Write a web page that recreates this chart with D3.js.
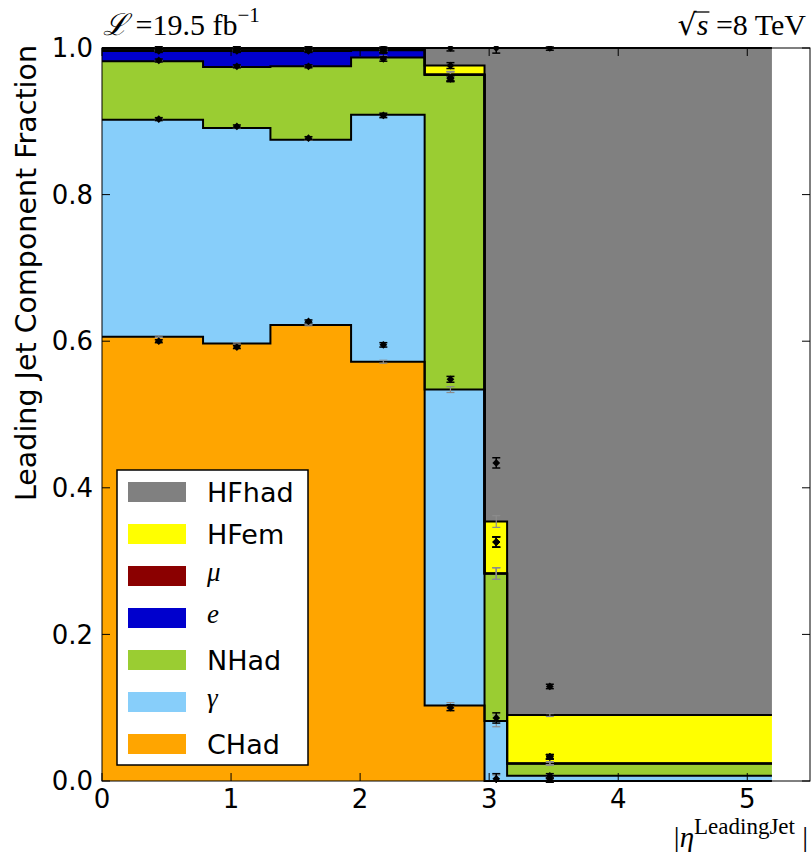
<!DOCTYPE html>
<html>
<head>
<meta charset="utf-8">
<script src="https://cdn.jsdelivr.net/npm/d3@7"></script>
<style>
  body { margin: 0; background: #fff; }
  svg { display: block; }
</style>
</head>
<body>
<svg id="chart" width="811" height="852"></svg>
<script>
// |eta| bin edges of the leading jet
const binEdges = [0, 0.783, 1.305, 1.93, 2.5, 2.964, 3.139, 5.191];
// mean |eta| of the data in each bin (where the points sit)
const dataEta = [0.44, 1.045, 1.60, 2.18, 2.70, 3.055, 3.47];

// component keys, stacked from the bottom up
const componentKeys = ["CHad", "gamma", "NHad", "e", "mu", "HFem", "HFhad"];
const componentLabels = ["CHad", "γ", "NHad", "e", "μ", "HFem", "HFhad"];
const componentMath = [false, true, false, true, true, false, false];
const componentColors = ["#ffa500", "#87cefa", "#9acd32", "#0000cd", "#8b0000", "#ffff00", "#808080"];

// simulation: energy fraction carried by each component, per bin
const mcCHad     = [0.606, 0.597, 0.622, 0.572, 0.103, 0.000, 0.000];
const mcGamma    = [0.296, 0.294, 0.253, 0.337, 0.431, 0.082, 0.007];
const mcNHad     = [0.080, 0.083, 0.100, 0.078, 0.429, 0.201, 0.017];
const mcElectron = [0.014, 0.022, 0.021, 0.010, 0.001, 0.000, 0.000];
const mcMuon     = [0.001, 0.001, 0.001, 0.001, 0.000, 0.000, 0.000];
const mcHFem     = [0.000, 0.000, 0.000, 0.000, 0.012, 0.071, 0.066];
const mcHFhad    = [0.003, 0.003, 0.003, 0.002, 0.024, 0.646, 0.910];
const mcErr      = [0.001, 0.001, 0.001, 0.002, 0.004, 0.008, 0.002];

// data: energy fraction carried by each component, per bin
const dataCHad     = [0.600, 0.592, 0.627, 0.595, 0.100, 0.003, 0.001];
const dataGamma    = [0.303, 0.301, 0.250, 0.313, 0.448, 0.083, 0.006];
const dataNHad     = [0.080, 0.082, 0.098, 0.077, 0.410, 0.240, 0.026];
const dataElectron = [0.013, 0.021, 0.021, 0.011, 0.001, 0.000, 0.000];
const dataMuon     = [0.001, 0.001, 0.001, 0.001, 0.000, 0.000, 0.000];
const dataHFem     = [0.000, 0.000, 0.000, 0.000, 0.017, 0.108, 0.096];
const dataHFhad    = [0.003, 0.003, 0.003, 0.003, 0.024, 0.566, 0.871];
const dataErr      = [0.002, 0.002, 0.002, 0.003, 0.004, 0.007, 0.003];

const xTicks = [0, 1, 2, 3, 4, 5];
const yTicks = [0.0, 0.2, 0.4, 0.6, 0.8, 1.0];

// ---------------------------------------------------------------
const svg = d3.select("#chart");
const plotL = 102, plotR = 810, plotT = 48, plotB = 781;

const x = d3.scaleLinear().domain([0, 5.486]).range([plotL, plotR]);
const y = d3.scaleLinear().domain([0, 1]).range([plotB, plotT]);

function rowsFrom(cols) {
  return binEdges.slice(0, -1).map((_, i) => {
    const r = {};
    componentKeys.forEach((k, j) => { r[k] = cols[j][i]; });
    return r;
  });
}
const mcRows = rowsFrom([mcCHad, mcGamma, mcNHad, mcElectron, mcMuon, mcHFem, mcHFhad]);
const dataRows = rowsFrom([dataCHad, dataGamma, dataNHad, dataElectron, dataMuon, dataHFem, dataHFhad]);

const stack = d3.stack().keys(componentKeys);
const mcStack = stack(mcRows);
const dataStack = stack(dataRows);

svg.append("defs").append("clipPath").attr("id", "plotClip")
  .append("rect").attr("x", plotL).attr("y", plotT - 2)
  .attr("width", plotR - plotL).attr("height", plotB - plotT + 4);

const plot = svg.append("g").attr("clip-path", "url(#plotClip)");

const nBins = binEdges.length - 1;
const stepPoints = s => binEdges.map((e, i) => ({ x: e, v: s[Math.min(i, nBins - 1)] }));

const area = d3.area()
  .x(d => x(d.x)).y0(d => y(d.v[0])).y1(d => y(d.v[1]))
  .curve(d3.curveStepAfter);
const topLine = d3.line()
  .x(d => x(d.x)).y(d => y(d.v[1]))
  .curve(d3.curveStepAfter);

// filled stacked components
plot.selectAll("path.fill").data(mcStack).join("path")
  .attr("class", "fill")
  .attr("d", s => area(stepPoints(s)))
  .attr("fill", (s, i) => componentColors[i])
  .attr("stroke", "none");

// black step outlines on top of each component
plot.selectAll("path.edge").data(mcStack).join("path")
  .attr("class", "edge")
  .attr("d", s => topLine(stepPoints(s)))
  .attr("fill", "none")
  .attr("stroke", "#000")
  .attr("stroke-width", 2);

// vertical error bars with caps
function errorBars(g, series, errs, colour, width) {
  series.forEach(s => {
    s.forEach((v, i) => {
      const cx = x(dataEta[i]);
      const y1 = y(v[1] + errs[i]), y2 = y(v[1] - errs[i]);
      g.append("line").attr("x1", cx).attr("x2", cx).attr("y1", y1).attr("y2", y2)
        .attr("stroke", colour).attr("stroke-width", width);
      [y1, y2].forEach(yy => g.append("line")
        .attr("x1", cx - 4).attr("x2", cx + 4).attr("y1", yy).attr("y2", yy)
        .attr("stroke", colour).attr("stroke-width", width));
    });
  });
}
// simulation statistical uncertainty (grey) and data uncertainty (black)
errorBars(plot.append("g"), mcStack, mcErr, "#8c8c8c", 1.2);
errorBars(plot.append("g"), dataStack, dataErr, "#000", 1.5);

// data points (diamonds)
const diamond = {
  draw(ctx, size) {
    const r = Math.sqrt(size / 2);
    ctx.moveTo(0, -r); ctx.lineTo(r, 0); ctx.lineTo(0, r); ctx.lineTo(-r, 0); ctx.closePath();
  }
};
const symbolPath = d3.symbol().type(diamond).size(30)();
dataStack.forEach(s => {
  plot.append("g").selectAll("path").data(s).join("path")
    .attr("d", symbolPath)
    .attr("transform", (v, i) => `translate(${x(dataEta[i])},${y(v[1])})`)
    .attr("fill", "#000");
});

// frame
svg.append("rect").attr("x", plotL).attr("y", plotT)
  .attr("width", plotR - plotL).attr("height", plotB - plotT)
  .attr("fill", "none").attr("stroke", "#000").attr("stroke-width", 1);

// ticks pointing inwards on all four sides
const tickLen = 8;
const tickG = svg.append("g").attr("stroke", "#000").attr("stroke-width", 1);
xTicks.forEach(t => {
  tickG.append("line").attr("x1", x(t)).attr("x2", x(t)).attr("y1", plotB).attr("y2", plotB - tickLen);
  tickG.append("line").attr("x1", x(t)).attr("x2", x(t)).attr("y1", plotT).attr("y2", plotT + tickLen);
});
yTicks.forEach(t => {
  tickG.append("line").attr("x1", plotL).attr("x2", plotL + tickLen).attr("y1", y(t)).attr("y2", y(t));
  tickG.append("line").attr("x1", plotR).attr("x2", plotR - tickLen).attr("y1", y(t)).attr("y2", y(t));
});

// tick labels
const labelFont = "'DejaVu Sans', sans-serif";
svg.append("g").selectAll("text").data(xTicks).join("text")
  .attr("x", d => x(d)).attr("y", 799).attr("dy", "0.35em")
  .attr("text-anchor", "middle")
  .attr("font-family", labelFont).attr("font-size", 26).attr("fill", "#000")
  .text(d => d3.format("d")(d));
svg.append("g").selectAll("text").data(yTicks).join("text")
  .attr("x", 93).attr("y", d => y(d)).attr("dy", "0.35em")
  .attr("text-anchor", "end")
  .attr("font-family", labelFont).attr("font-size", 26).attr("fill", "#000")
  .text(d => d3.format(".1f")(d));

// axis titles
svg.append("text")
  .attr("transform", `translate(36,45) rotate(-90)`)
  .attr("text-anchor", "end")
  .attr("font-family", labelFont).attr("font-size", 28.5).attr("fill", "#000")
  .text("Leading Jet Component Fraction");

const serif = "'Liberation Serif', 'DejaVu Serif', serif";
const xl = svg.append("text")
  .attr("x", 808).attr("y", 847)
  .attr("text-anchor", "end")
  .attr("font-family", serif).attr("font-size", 29).attr("fill", "#000");
xl.append("tspan").text("|");
xl.append("tspan").attr("font-style", "italic").text("η");
xl.append("tspan").attr("font-size", 23).attr("dy", -13).text("LeadingJet");
xl.append("tspan").attr("dy", 13).text(" |");

// luminosity and energy annotations
const lumi = svg.append("text")
  .attr("x", 103).attr("y", 35)
  .attr("font-family", serif).attr("font-size", 30).attr("fill", "#000");
lumi.append("tspan").attr("font-family", "'DejaVu Serif', serif").attr("font-style", "italic").text("ℒ");
lumi.append("tspan").text(" =19.5 fb");
lumi.append("tspan").attr("font-size", 21).attr("dy", -13).text("−1");

const energy = svg.append("text")
  .attr("x", 806).attr("y", 35)
  .attr("text-anchor", "end")
  .attr("font-family", serif).attr("font-size", 30).attr("fill", "#000");
energy.append("tspan").attr("font-family", "'DejaVu Serif', serif").text("√");
energy.append("tspan").attr("font-style", "italic").text("s");
energy.append("tspan").text(" =8 TeV");
// vinculum over the s
{
  const node = energy.node();
  const s1 = node.getEndPositionOfChar(1).x;
  const r0 = node.getStartPositionOfChar(0).x;
  const rw = node.getEndPositionOfChar(0).x - r0;
  svg.append("line").attr("x1", r0 + rw * 0.85).attr("x2", s1 + 1)
    .attr("y1", 12).attr("y2", 12)
    .attr("stroke", "#000").attr("stroke-width", 1.3);
}

// legend, top entry is the top of the stack
const legendX = 117, legendY = 470, legendW = 191, legendH = 295;
const legend = svg.append("g");
legend.append("rect").attr("x", legendX).attr("y", legendY)
  .attr("width", legendW).attr("height", legendH)
  .attr("fill", "#fff").attr("stroke", "#000").attr("stroke-width", 1.5);
const legendOrder = d3.range(componentKeys.length).reverse();
legendOrder.forEach((j, row) => {
  const cy = 492 + row * 42;
  legend.append("rect").attr("x", 128).attr("y", cy - 10)
    .attr("width", 58).attr("height", 20)
    .attr("fill", componentColors[j]);
  legend.append("text")
    .attr("x", 207).attr("y", cy).attr("dy", componentMath[j] ? "0.2em" : "0.36em")
    .attr("font-family", componentMath[j] ? serif : labelFont)
    .attr("font-style", componentMath[j] ? "italic" : "normal")
    .attr("font-size", 27)
    .attr("fill", "#000")
    .text(componentLabels[j]);
});
</script>
</body>
</html>
